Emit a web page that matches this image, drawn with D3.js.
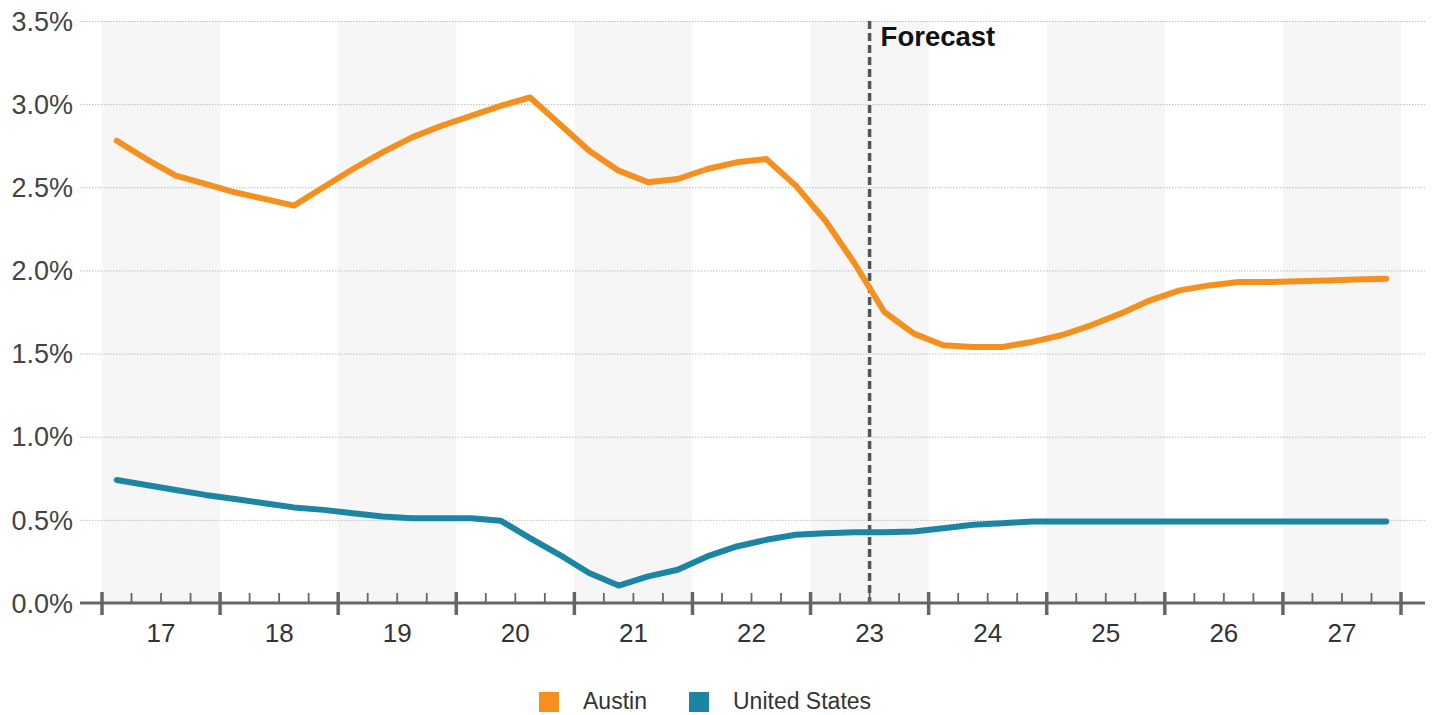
<!DOCTYPE html>
<html>
<head>
<meta charset="utf-8">
<script src="https://cdn.jsdelivr.net/npm/d3@7"></script>
<style>
  html, body { margin: 0; padding: 0; background: #fff; }
  svg { display: block; font-family: Arial, "Liberation Sans", sans-serif; }
</style>
</head>
<body>
<svg id="chart" width="1432" height="715"></svg>
<script>
// ---- Data ----
const years = [2017, 2018, 2019, 2020, 2021, 2022, 2023, 2024, 2025, 2026, 2027];
const yearLabels = ["17", "18", "19", "20", "21", "22", "23", "24", "25", "26", "27"];
const yTicks = [0, 0.5, 1.0, 1.5, 2.0, 2.5, 3.0, 3.5];
const seriesNames = ["Austin", "United States"];
const seriesColors = ["#F5901E", "#1C85A4"];
// quarterly values, 2017 Q1 .. 2027 Q4
const austin = [2.78, 2.67, 2.57, 2.52, 2.47, 2.43, 2.39, 2.50, 2.61, 2.71, 2.80, 2.87,
                2.93, 2.99, 3.04, 2.88, 2.72, 2.60, 2.53, 2.55, 2.61, 2.65, 2.67, 2.51,
                2.30, 2.04, 1.75, 1.62, 1.55, 1.54, 1.54, 1.57, 1.61, 1.67, 1.74, 1.82,
                1.88, 1.91, 1.93, 1.93, 1.935, 1.94, 1.945, 1.95];
const us = [0.74, 0.71, 0.68, 0.65, 0.625, 0.60, 0.575, 0.56, 0.54, 0.52, 0.51, 0.51,
            0.51, 0.495, 0.39, 0.29, 0.18, 0.105, 0.16, 0.20, 0.28, 0.34, 0.38, 0.41,
            0.42, 0.425, 0.425, 0.43, 0.45, 0.47, 0.48, 0.49, 0.49, 0.49, 0.49, 0.49,
            0.49, 0.49, 0.49, 0.49, 0.49, 0.49, 0.49, 0.49];
const forecastAt = 2023.5;
const forecastLabel = "Forecast";

// ---- Scales ----
const svg = d3.select("#chart");
const x = d3.scaleLinear().domain([2017, 2028]).range([102, 1401]);
const y = d3.scaleLinear().domain([0, 3.5]).range([603, 21]);
const gridLeft = 80, gridRight = 1425;

const qx = i => x(years[0] + (i + 0.5) / 4);

// alternating year bands
svg.append("g").selectAll("rect")
  .data(years.filter((d, i) => i % 2 === 0))
  .join("rect")
  .attr("x", d => x(d))
  .attr("width", d => x(d + 1) - x(d))
  .attr("y", y(3.5))
  .attr("height", y(0) - y(3.5))
  .attr("fill", "#f6f6f6");

// gridlines
svg.append("g").selectAll("line")
  .data(yTicks.filter(d => d > 0))
  .join("line")
  .attr("x1", gridLeft).attr("x2", gridRight)
  .attr("y1", d => y(d) + 0.5).attr("y2", d => y(d) + 0.5)
  .attr("stroke", "#bdbdbd").attr("stroke-width", 1)
  .attr("stroke-dasharray", "1.5,1.5");

// y labels
svg.append("g").selectAll("text")
  .data(yTicks)
  .join("text")
  .attr("x", 73).attr("y", d => y(d))
  .attr("dy", "0.36em")
  .attr("text-anchor", "end")
  .attr("font-size", 27)
  .attr("fill", "#444")
  .text(d => d.toFixed(1) + "%");

// forecast line
svg.append("line")
  .attr("x1", x(forecastAt)).attr("x2", x(forecastAt))
  .attr("y1", y(3.5)).attr("y2", y(0))
  .attr("stroke", "#555").attr("stroke-width", 3.5)
  .attr("stroke-dasharray", "8,4");
svg.append("text")
  .attr("x", x(forecastAt) + 11).attr("y", 46)
  .attr("font-size", 27.5).attr("font-weight", "bold")
  .attr("fill", "#111")
  .text(forecastLabel);

// x axis
const axisG = svg.append("g");
axisG.append("line")
  .attr("x1", gridLeft).attr("x2", gridRight)
  .attr("y1", y(0)).attr("y2", y(0))
  .attr("stroke", "#666").attr("stroke-width", 3);
const quarterTicks = d3.range(0, years.length * 4 + 1).map(i => years[0] + i / 4);
axisG.selectAll("line.tick")
  .data(quarterTicks)
  .join("line")
  .attr("class", "tick")
  .attr("x1", d => x(d)).attr("x2", d => x(d))
  .attr("y1", (d, i) => i % 4 === 0 ? y(0) - 11 : y(0) - 10)
  .attr("y2", (d, i) => i % 4 === 0 ? y(0) + 12 : y(0))
  .attr("stroke", "#666")
  .attr("stroke-width", (d, i) => i % 4 === 0 ? 3.5 : 1.8);
axisG.selectAll("text")
  .data(years)
  .join("text")
  .attr("x", d => x(d + 0.5))
  .attr("y", 642)
  .attr("text-anchor", "middle")
  .attr("font-size", 26)
  .attr("fill", "#333")
  .text((d, i) => yearLabels[i]);

// lines
const line = d3.line().x((d, i) => qx(i)).y(d => y(d));
[austin, us].forEach((s, k) => {
  svg.append("path")
    .datum(s)
    .attr("d", line)
    .attr("fill", "none")
    .attr("stroke", seriesColors[k])
    .attr("stroke-width", 6)
    .attr("stroke-linejoin", "round")
    .attr("stroke-linecap", "round");
});

// legend
const legendX = [539, 689];
const lg = svg.append("g");
seriesNames.forEach((name, k) => {
  lg.append("rect")
    .attr("x", legendX[k]).attr("y", 692)
    .attr("width", 20).attr("height", 20)
    .attr("fill", seriesColors[k]);
  lg.append("text")
    .attr("x", legendX[k] + 44).attr("y", 709)
    .attr("font-size", 23)
    .attr("fill", "#333")
    .text(name);
});
</script>
</body>
</html>
